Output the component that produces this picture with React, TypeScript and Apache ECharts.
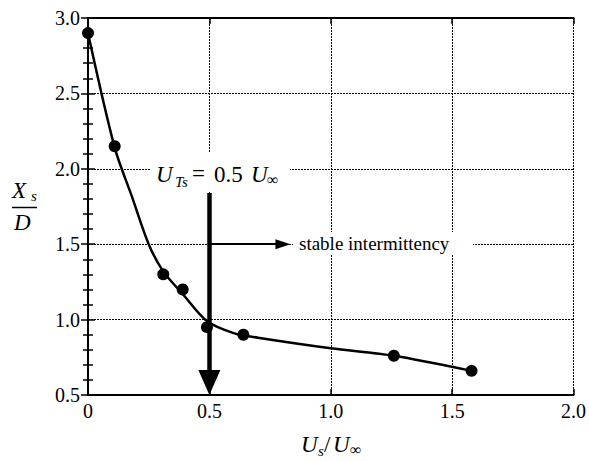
import React, { useEffect, useRef } from "react";
import * as echarts from "echarts";

const pointsX = [0, 0.11, 0.31, 0.39, 0.49, 0.64, 1.26, 1.58];
const pointsY = [2.9, 2.15, 1.3, 1.2, 0.95, 0.9, 0.76, 0.66];

const curveX = [0, 0.11, 0.18, 0.25, 0.31, 0.39, 0.49, 0.6, 0.7, 1.0, 1.26, 1.58];
const curveY = [2.9, 2.14, 1.82, 1.5, 1.32, 1.17, 0.99, 0.91, 0.88, 0.81, 0.76, 0.66];

const xTicks = [0, 0.5, 1.0, 1.5, 2.0];
const yTicks = [0.5, 1.0, 1.5, 2.0, 2.5, 3.0];

const arrowDown = { x: 0.5, yFrom: 1.84, yTo: 0.583 };
const arrowRight = { y: 1.5, xFrom: 0.5, xTo: 0.803 };

const FONT = "Liberation Serif";

export default function App() {
  const ref = useRef<HTMLDivElement>(null);
  useEffect(() => {
    if (!ref.current) return;
    const chart = echarts.init(ref.current, null, { renderer: "svg" });
    const axisLine = { show: true, lineStyle: { color: "#000", width: 2 } };
    const splitLine = { show: true, lineStyle: { color: "#000", width: 1, type: [2, 1] as any } };
    const fmt = (v: number) => (v === 0 ? "0" : v.toFixed(1));
    const txt = (
      text: string,
      x: number,
      y: number,
      size: number,
      italic: boolean
    ) => ({
      type: "text",
      z: 60,
      x,
      y,
      style: {
        text,
        fill: "#000",
        fontFamily: FONT,
        fontSize: size,
        fontStyle: italic ? "italic" : "normal",
        align: "left",
        verticalAlign: "middle",
      },
    });
    chart.setOption({
      animation: false,
      backgroundColor: "#fff",
      grid: { left: 88, right: 13, top: 18, bottom: 66, containLabel: false },
      xAxis: [
        {
          type: "value",
          min: xTicks[0],
          max: xTicks[xTicks.length - 1],
          interval: 0.5,
          axisLine,
          axisTick: { show: true, inside: true, length: 6, lineStyle: { color: "#000", width: 1.5 } },
          axisLabel: { formatter: fmt, color: "#000", fontFamily: FONT, fontSize: 20, margin: 6 },
          splitLine,
        },
        {
          type: "value",
          position: "top",
          min: xTicks[0],
          max: xTicks[xTicks.length - 1],
          interval: 0.5,
          axisLine,
          axisTick: { show: true, inside: true, length: 6, lineStyle: { color: "#000", width: 1.5 } },
          axisLabel: { show: false },
          splitLine: { show: false },
        },
      ],
      yAxis: [
        {
          type: "value",
          min: yTicks[0],
          max: yTicks[yTicks.length - 1],
          interval: 0.5,
          axisLine,
          axisTick: { show: true, inside: true, length: 7, lineStyle: { color: "#000", width: 1.5 } },
          minorTick: { show: true, splitNumber: 5, length: 5, lineStyle: { color: "#000", width: 1.5 } },
          axisLabel: { formatter: fmt, color: "#000", fontFamily: FONT, fontSize: 20, margin: 8 },
          splitLine,
        },
        {
          type: "value",
          position: "right",
          min: yTicks[0],
          max: yTicks[yTicks.length - 1],
          interval: 0.5,
          axisLine,
          axisTick: { show: true, inside: true, length: 7, lineStyle: { color: "#000", width: 1.5 } },
          minorTick: { show: true, splitNumber: 5, length: 5, lineStyle: { color: "#000", width: 1.5 } },
          axisLabel: { show: false },
          splitLine: { show: false },
        },
      ],
      series: [
        {
          type: "line",
          data: curveX.map((x, i) => [x, curveY[i]]),
          smooth: 0.3,
          showSymbol: false,
          symbol: "none",
          lineStyle: { color: "#000", width: 2.5 },
          z: 3,
        },
        {
          type: "scatter",
          data: pointsX.map((x, i) => [x, pointsY[i]]),
          symbol: "circle",
          symbolSize: 12,
          itemStyle: { color: "#000", opacity: 1 },
          z: 4,
        },
        {
          type: "line",
          data: [],
          markLine: {
            silent: true,
            animation: false,
            label: { show: false },
            data: [
              [
                { coord: [arrowDown.x, arrowDown.yFrom], symbol: "none" },
                { coord: [arrowDown.x, arrowDown.yTo], symbol: "triangle", symbolSize: [22, 25] },
              ],
              [
                { coord: [arrowRight.xFrom, arrowRight.y], symbol: "none", lineStyle: { width: 2 } },
                { coord: [arrowRight.xTo, arrowRight.y], symbol: "triangle", symbolSize: [10, 15] },
              ],
            ],
            lineStyle: { color: "#000", width: 4.5, type: "solid" },
            itemStyle: { color: "#000" },
          },
          z: 5,
        },
      ],
      graphic: [
        { type: "rect", z: 50, shape: { x: 150, y: 153, width: 140, height: 39 }, style: { fill: "#fff" } },
        { type: "rect", z: 50, shape: { x: 293, y: 232, width: 180, height: 22 }, style: { fill: "#fff" } },
        txt("U", 156, 174.5, 23, true),
        txt("Ts", 175, 182, 15, true),
        txt("=", 192, 173, 23, false),
        txt("0.5", 214, 174.5, 23, false),
        txt("U", 251, 174.5, 23, true),
        txt("∞", 267, 179, 16, false),
        txt("stable intermittency", 299, 243, 19, false),
        txt("X", 12, 190.5, 23, true),
        txt("s", 31, 196, 15, true),
        { type: "line", z: 60, shape: { x1: 12, y1: 207.5, x2: 37, y2: 207.5 }, style: { stroke: "#000", lineWidth: 1.5 } },
        txt("D", 14, 222, 23, true),
        txt("U", 301, 444, 23, true),
        txt("s", 318, 451, 15, true),
        txt("/", 324, 444, 23, false),
        txt("U", 333, 444, 23, true),
        txt("∞", 350, 449, 16, false),
      ],
    });
    return () => chart.dispose();
  }, []);
  return <div ref={ref} style={{ width: 589, height: 461, position: "absolute", left: 0, top: 0 }} />;
}
